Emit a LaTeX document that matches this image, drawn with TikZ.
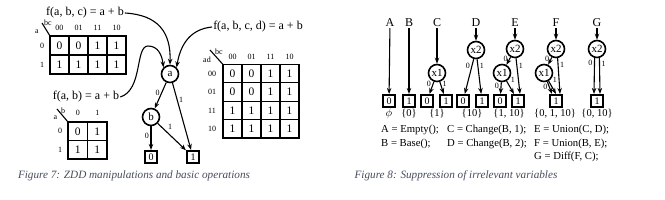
\documentclass[tikz,border=0pt]{standalone}
\usepackage{fontspec}
\setmainfont{Liberation Serif}
\usetikzlibrary{arrows.meta,calc}
\definecolor{capcol}{RGB}{70,76,92}
\begin{document}
\begin{tikzpicture}[x=1pt,y=-1pt,
  vnode/.style={circle,draw,line width=1.6pt,minimum size=17pt,inner sep=0pt,font=\fontsize{11}{11}\selectfont},
  term/.style={rectangle,draw,line width=1.6pt,minimum size=12.5pt,inner sep=0pt,font=\fontsize{10}{10}\selectfont},
  arr/.style={-{Stealth[length=6pt,width=4.5pt]},line width=1.1pt},
  lbl/.style={font=\fontsize{8}{8}\selectfont,inner sep=1.5pt},
  cell/.style={font=\fontsize{11.5}{11.5}\selectfont,inner sep=0pt},
  hdr/.style={font=\fontsize{8}{8}\selectfont,inner sep=0pt},
  ftxt/.style={font=\fontsize{12}{12}\selectfont,inner sep=1pt},
  txt/.style={font=\fontsize{10.7}{10.7}\selectfont,inner sep=0pt,anchor=west},
  setl/.style={font=\fontsize{10.5}{10.5}\selectfont,inner sep=0pt},
  captxt/.style={font=\fontsize{11.2}{11.2}\selectfont\itshape,text=capcol,inner sep=0pt},
  kouter/.style={line width=1.6pt},
  kinner/.style={line width=1.1pt}]
\useasboundingbox (0,0) rectangle (665,200);

% ---------------- Figure 7 ----------------
\node[ftxt] (fabc) at (85,13) {f(a, b, c) = a + b};
\node[ftxt] (fab) at (86,97) {f(a, b) = a + b};
\node[ftxt] (fabcd) at (258,27) {f(a, b, c, d) = a + b};

% K-map 1
\draw[kouter] (50,36) rectangle (126,74);
\foreach \x in {69,88,107} \draw[kinner] (\x,36) -- (\x,74);
\draw[kinner] (50,55) -- (126,55);
\draw[kinner] (42,23) -- (50,36);
\node[hdr] (k1bc) at (48,23) {bc};
\node[hdr] (k1a) at (37,32) {a};
\foreach \h [count=\c] in {00,01,11,10} \node[hdr] (k1h\c) at ({50+19*\c-9.5},28) {\h};
\node[hdr] (k1r1) at (42,45.5) {0};
\node[hdr] (k1r2) at (42,64.5) {1};
\foreach \v [count=\c] in {0,0,1,1} \node[cell] (k1a\c) at ({50+19*\c-9.5},45.5) {\v};
\foreach \v [count=\c] in {1,1,1,1} \node[cell] (k1b\c) at ({50+19*\c-9.5},64.5) {\v};

% K-map 2
\draw[kouter] (68,122) rectangle (107,159);
\draw[kinner] (87.5,122) -- (87.5,159);
\draw[kinner] (68,140.5) -- (107,140.5);
\draw[kinner] (57,109) -- (68,122);
\node[hdr] (k2b) at (63,111) {b};
\node[hdr] (k2a) at (55.5,118) {a};
\node[hdr] (k2h1) at (77.75,113) {0};
\node[hdr] (k2h2) at (97.25,113) {1};
\node[hdr] (k2r1) at (60,131.25) {0};
\node[hdr] (k2r2) at (60,149.75) {1};
\node[cell] (k2a1) at (77.75,131.25) {0};
\node[cell] (k2a2) at (97.25,131.25) {1};
\node[cell] (k2b1) at (77.75,149.75) {1};
\node[cell] (k2b2) at (97.25,149.75) {1};

% K-map 3
\draw[kouter] (223,64.5) rectangle (299,138);
\foreach \x in {242,261,280} \draw[kinner] (\x,64.5) -- (\x,138);
\foreach \y in {82.9,101.25,119.6} \draw[kinner] (223,\y) -- (299,\y);
\draw[kinner] (210,50) -- (223,64.5);
\node[hdr] (k3bc) at (219,52) {bc};
\node[hdr] (k3ad) at (207,60) {ad};
\foreach \h [count=\c] in {00,01,11,10} \node[hdr] (k3h\c) at ({223+19*\c-9.5},57) {\h};
\foreach \h [count=\r] in {00,01,11,10} \node[hdr] (k3r\r) at (212,{64.5+18.375*\r-9.19}) {\h};
\foreach \v [count=\c] in {0,0,1,1} \node[cell] (k3a\c) at ({223+19*\c-9.5},73.7) {\v};
\foreach \v [count=\c] in {0,0,1,1} \node[cell] (k3b\c) at ({223+19*\c-9.5},92.1) {\v};
\foreach \v [count=\c] in {1,1,1,1} \node[cell] (k3c\c) at ({223+19*\c-9.5},110.4) {\v};
\foreach \v [count=\c] in {1,1,1,1} \node[cell] (k3d\c) at ({223+19*\c-9.5},128.8) {\v};

% ZDD
\node[vnode] (a) at (170,74) {a};
\node[vnode] (b) at (151,117) {b};
\node[term] (t0) at (151,157) {0};
\node[term] (t1) at (193,157) {1};
\draw[arr] (a) -- node[lbl,left,pos=0.4]{0} (b);
\draw[arr] (a) -- node[lbl,right,pos=0.25]{1} (t1);
\draw[arr] (b) -- node[lbl,left,pos=0.4]{0} (t0);
\draw[arr] (b) -- node[lbl,above right,pos=0.3]{1} (t1);
\draw[arr] (fabc.east) .. controls (158,15) and (171,32) .. (a.north);
\draw[arr] (fab.east) .. controls (143,90) and (135,46) .. (148,46) .. controls (158,46) and (162,55) .. (a.north west);
\draw[arr] (fabcd.west) .. controls (192,29) and (181,42) .. (a.north east);

\node[captxt] (cap7) at (134,176) {Figure 7: ZDD manipulations and basic operations};

% ---------------- Figure 8 ----------------
\foreach \n/\x in {A/390,B/409,C/437,D/476,E/515,F/556,G/597}
  \node[ftxt] (L\n) at (\x,23) {\n};

\node[vnode] (Cx1) at (437,73) {x1};
\node[vnode] (Dx2) at (476,50) {x2};
\node[vnode] (Ex2) at (515,49) {x2};
\node[vnode] (Ex1) at (502,73) {x1};
\node[vnode] (Fx2) at (556,49) {x2};
\node[vnode] (Fx1) at (544,73) {x1};
\node[vnode] (Gx2) at (597,49) {x2};

\node[term] (A0) at (389,101) {0};
\node[term] (B1) at (409,101) {1};
\node[term] (C0) at (427,101) {0};
\node[term] (C1) at (446,101) {1};
\node[term] (D0) at (463,101) {0};
\node[term] (D1) at (482,101) {1};
\node[term] (E0) at (500,101) {0};
\node[term] (E1) at (518,101) {1};
\node[term] (F1) at (556,101) {1};
\node[term] (G1) at (597,101) {1};

\draw[arr] (LA) -- (A0);
\draw[arr] (LB) -- (B1);
\draw[arr] (LC) -- (Cx1);
\draw[arr] (LD) -- (Dx2);
\draw[arr] (LE) -- (Ex2);
\draw[arr] (LF) -- (Fx2);
\draw[arr] (LG) -- (Gx2);

\draw[arr] (Cx1) -- node[lbl,left,pos=0.2]{0} (C0);
\draw[arr] (Cx1) -- node[lbl,right,pos=0.2]{1} (C1);
\draw[arr] (Dx2) -- node[lbl,left,pos=0.2]{0} (D0);
\draw[arr] (Dx2) -- node[lbl,right,pos=0.2]{1} (D1);
\draw[arr] (Ex2) -- node[lbl,left,pos=0.2]{0} (Ex1);
\draw[arr] (Ex2) -- node[lbl,right,pos=0.2]{1} ([xshift=2pt]E1.north);
\draw[arr] (Ex1) -- node[lbl,left,pos=0.35]{0} (E0);
\draw[arr] (Ex1) -- node[lbl,above right,pos=0.3]{1} (E1);
\draw[arr] (Fx2) -- node[lbl,left,pos=0.2]{0} (Fx1);
\draw[arr] (Fx2.-80) -- node[lbl,right,pos=0.2]{1} ([xshift=4pt]F1.north);
\draw[arr] (Fx1) -- node[lbl,left,pos=0.45]{0} ([xshift=-4pt]F1.north);
\draw[arr] (Fx1) -- node[lbl,above right,pos=0.3]{1} (F1.north);
\draw[arr] (Gx2.-105) -- node[lbl,left,pos=0.15]{0} ([xshift=-3pt]G1.north);
\draw[arr] (Gx2.-75) -- node[lbl,right,pos=0.15]{1} ([xshift=3pt]G1.north);

\node[setl] (s1) at (389,114) {$\phi$};
\node[setl] (s2) at (409,114) {\{0\}};
\node[setl] (s3) at (437,114) {\{1\}};
\node[setl] (s4) at (472,114) {\{10\}};
\node[setl] (s5) at (509,114) {\{1, 10\}};
\node[setl] (s6) at (555,114) {\{0, 1, 10\}};
\node[setl] (s7) at (597,114) {\{0, 10\}};

\node[txt] (eA) at (381,130) {A = Empty();};
\node[txt] (eB) at (381,143.5) {B = Base();};
\node[txt] (eC) at (447,130) {C = Change(B, 1);};
\node[txt] (eD) at (447,143.5) {D = Change(B, 2);};
\node[txt] (eE) at (534,130) {E = Union(C, D);};
\node[txt] (eF) at (534,143.5) {F = Union(B, E);};
\node[txt] (eG) at (534,157) {G = Diff(F, C);};

\node[captxt] (cap8) at (456,176) {Figure 8: Suppression of irrelevant variables};
\end{tikzpicture}
\end{document}
